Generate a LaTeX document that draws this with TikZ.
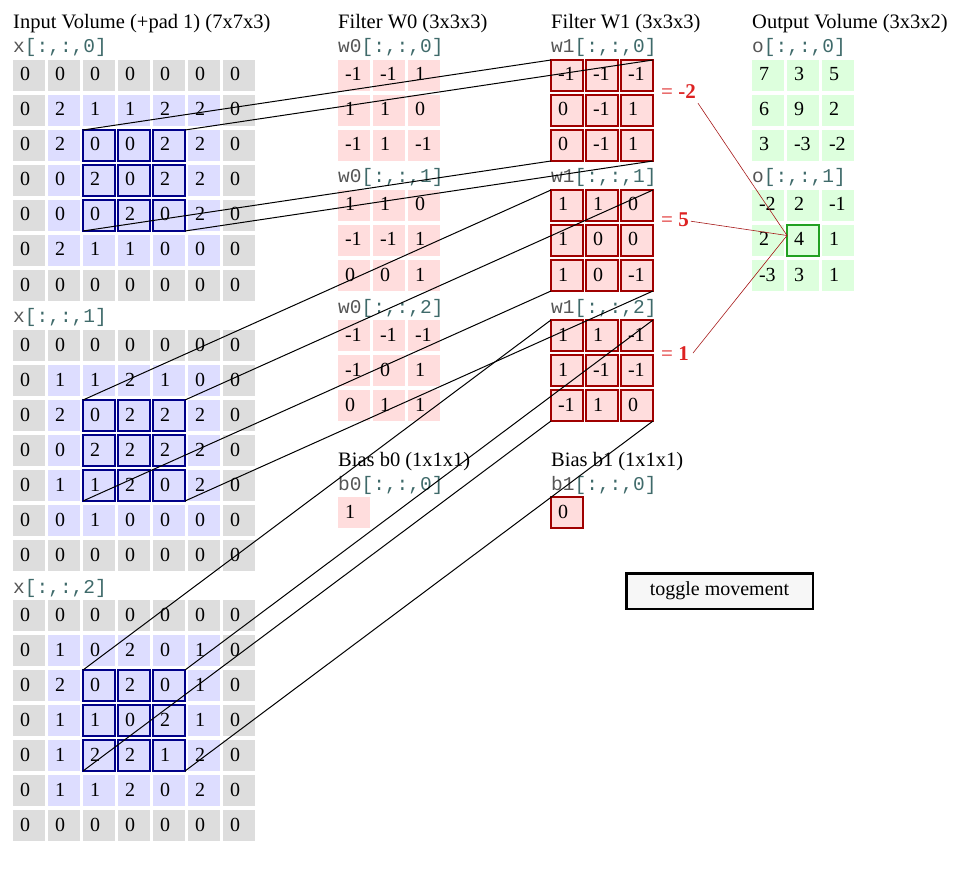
\documentclass[tikz,border=0pt]{standalone}
\usepackage{fontspec}
\setmainfont{Liberation Serif}
\setmonofont{Liberation Mono}
\definecolor{padc}{HTML}{DDDDDD}
\definecolor{inc}{HTML}{DDDDFF}
\definecolor{pinkc}{HTML}{FFDDDD}
\definecolor{greenc}{HTML}{DDFFDD}
\definecolor{hlblue}{HTML}{000088}
\definecolor{redb}{HTML}{A00000}
\definecolor{greenb}{HTML}{22A022}
\definecolor{lblred}{HTML}{DD2222}
\definecolor{namec}{HTML}{555555}
\definecolor{idxc}{HTML}{3F6A6A}
\newcommand\mlab[2]{{\ttfamily\fontsize{19.5}{22}\selectfont\textcolor{namec}{#1}\textcolor{idxc}{#2}}}
\tikzset{
 cell/.style={anchor=north west, inner xsep=7pt, inner ysep=0pt, outer sep=0pt, text width=18pt, align=left, minimum height=31pt, text height=12pt, text depth=1pt, font=\fontsize{20}{24}\selectfont},
 pad1/.style={fill=padc}, pad0/.style={fill=inc},
 hl0/.style={}, hl1/.style={draw=hlblue, line width=2pt},
 wzero/.style={fill=pinkc},
 wone/.style={fill=pinkc, draw=redb, line width=2.2pt},
 outc/.style={fill=greenc},
 ttl/.style={anchor=base west, inner sep=0pt, font=\fontsize{20.5}{24}\selectfont},
 slbl/.style={anchor=base west, inner sep=0pt},
 conn/.style={black, line width=1pt},
 rconn/.style={draw=lblred!75!black, line width=0.6pt},
 eqlbl/.style={anchor=base west, inner sep=0pt, text=lblred, font=\fontsize{21}{24}\selectfont},
 btn/.style={draw=black, line width=2.5pt, fill=black!3, minimum width=186.5pt, minimum height=35.5pt, inner sep=0pt, font=\fontsize{20}{24}\selectfont}
}
\newcommand\inputslice[3]{%
 \foreach \row [count=\r from 0] in {#3} {
  \foreach \v [count=\c from 0] in \row {
   \pgfmathtruncatemacro\pd{(\r==0)||(\r==6)||(\c==0)||(\c==6)}
   \pgfmathtruncatemacro\hh{(\r>=2)&&(\r<=4)&&(\c>=2)&&(\c<=4)}
   \node[cell, pad\pd, hl\hh] (x#1-\r-\c) at (13+35*\c, #2+35*\r) {\v};
  }
 }
}
\newcommand\smallslice[5]{%
 \foreach \row [count=\r from 0] in {#5} {
  \foreach \v [count=\c from 0] in \row {
   \node[cell, #4] (#1-\r-\c) at (#2+35*\c, #3+35*\r) {\v};
  }
 }
}
\begin{document}
\begin{tikzpicture}[x=1pt, y=-1pt]
\useasboundingbox (0,0) rectangle (967,869);
% titles
\node[ttl] (tin) at (13,28.5) {Input Volume (+pad 1) (7x7x3)};
\node[ttl] (tw0) at (338,28.5) {Filter W0 (3x3x3)};
\node[ttl] (tw1) at (551,28.5) {Filter W1 (3x3x3)};
\node[ttl] (tout) at (752,28.5) {Output Volume (3x3x2)};
\node[ttl] (tb0) at (338,466) {Bias b0 (1x1x1)};
\node[ttl] (tb1) at (551,466) {Bias b1 (1x1x1)};
% slice labels
\node[slbl] (lx0) at (13,53) {\mlab{x}{[:,:,0]}};
\node[slbl] (lx1) at (13,323) {\mlab{x}{[:,:,1]}};
\node[slbl] (lx2) at (13,593) {\mlab{x}{[:,:,2]}};
\node[slbl] (lw00) at (338,53) {\mlab{w0}{[:,:,0]}};
\node[slbl] (lw01) at (338,183) {\mlab{w0}{[:,:,1]}};
\node[slbl] (lw02) at (338,313) {\mlab{w0}{[:,:,2]}};
\node[slbl] (lw10) at (551,53) {\mlab{w1}{[:,:,0]}};
\node[slbl] (lw11) at (551,183) {\mlab{w1}{[:,:,1]}};
\node[slbl] (lw12) at (551,313) {\mlab{w1}{[:,:,2]}};
\node[slbl] (lb0) at (338,490) {\mlab{b0}{[:,:,0]}};
\node[slbl] (lb1) at (551,490) {\mlab{b1}{[:,:,0]}};
\node[slbl] (lo0) at (752,53) {\mlab{o}{[:,:,0]}};
\node[slbl] (lo1) at (752,183) {\mlab{o}{[:,:,1]}};
% input volume
\inputslice{0}{60}{{0,0,0,0,0,0,0},{0,2,1,1,2,2,0},{0,2,0,0,2,2,0},{0,0,2,0,2,2,0},{0,0,0,2,0,2,0},{0,2,1,1,0,0,0},{0,0,0,0,0,0,0}}
\inputslice{1}{330}{{0,0,0,0,0,0,0},{0,1,1,2,1,0,0},{0,2,0,2,2,2,0},{0,0,2,2,2,2,0},{0,1,1,2,0,2,0},{0,0,1,0,0,0,0},{0,0,0,0,0,0,0}}
\inputslice{2}{600}{{0,0,0,0,0,0,0},{0,1,0,2,0,1,0},{0,2,0,2,0,1,0},{0,1,1,0,2,1,0},{0,1,2,2,1,2,0},{0,1,1,2,0,2,0},{0,0,0,0,0,0,0}}
% filter W0
\smallslice{w0s0}{338}{60}{wzero}{{-1,-1,1},{1,1,0},{-1,1,-1}}
\smallslice{w0s1}{338}{190}{wzero}{{1,1,0},{-1,-1,1},{0,0,1}}
\smallslice{w0s2}{338}{320}{wzero}{{-1,-1,-1},{-1,0,1},{0,1,1}}
% filter W1
\smallslice{w1s0}{551}{60}{wone}{{-1,-1,-1},{0,-1,1},{0,-1,1}}
\smallslice{w1s1}{551}{190}{wone}{{1,1,0},{1,0,0},{1,0,-1}}
\smallslice{w1s2}{551}{320}{wone}{{1,1,-1},{1,-1,-1},{-1,1,0}}
% biases
\node[cell, wzero] (b0c) at (338,497) {1};
\node[cell, wone] (b1c) at (551,497) {0};
% output
\smallslice{o0}{752}{60}{outc}{{7,3,5},{6,9,2},{3,-3,-2}}
\smallslice{o1}{752}{190}{outc}{{-2,2,-1},{2,4,1},{-3,3,1}}
\draw[draw=greenb, line width=2.5pt] (o1-1-1.north west) rectangle (o1-1-1.south east);
% connectors input -> W1
\foreach \d in {0,1,2} {
 \draw[conn] (x\d-2-2.north west) -- (w1s\d-0-0.north west);
 \draw[conn] (x\d-2-4.north east) -- (w1s\d-0-2.north east);
 \draw[conn] (x\d-4-2.south west) -- (w1s\d-2-0.south west);
 \draw[conn] (x\d-4-4.south east) -- (w1s\d-2-2.south east);
}
% partial sums
\node[eqlbl] (ea) at (661,99) {= \textbf{-2}};
\node[eqlbl] (eb) at (661,227) {= \textbf{5}};
\node[eqlbl] (ec) at (661,360) {= \textbf{1}};
\coordinate (meet) at ([yshift=5pt]o1-1-1.west);
\draw[rconn] ([xshift=2pt,yshift=-4pt]ea.south east) -- (meet);
\draw[rconn] ([xshift=2pt,yshift=-1pt]eb.east) -- (meet);
\draw[rconn] ([xshift=4pt]ec.east) -- (meet);
% button
\node[btn] (tog) at (719.5,591) {toggle movement};
\end{tikzpicture}
\end{document}
